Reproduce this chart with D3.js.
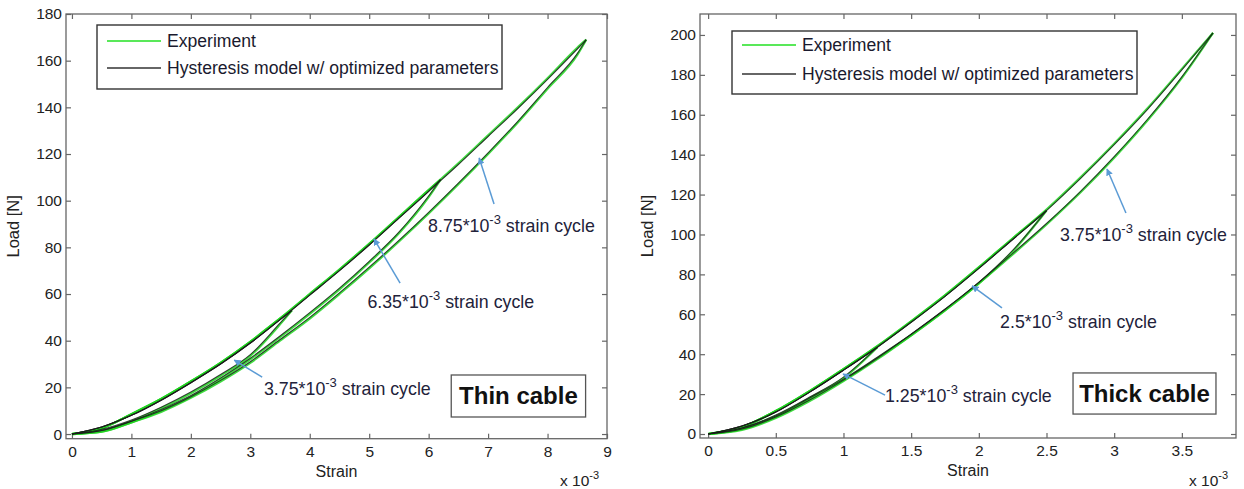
<!DOCTYPE html>
<html>
<head>
<meta charset="utf-8">
<script src="https://cdn.jsdelivr.net/npm/d3@7"></script>
<style>
  body { margin: 0; background: #fff; }
  text { font-family: Arial, "Liberation Sans", sans-serif; }
</style>
</head>
<body>
<svg width="1244" height="489"></svg>
<script>
// strain is in units of 1e-3, load in N

// ---- thin cable ----
const thinStrain = [0, 0.5, 1, 1.5, 2, 2.5, 3, 3.5, 4, 4.5, 5, 5.5, 6, 6.5, 7, 7.5, 8, 8.5];
const thinPeaks = [[3.7, 53], [6.2, 109], [8.65, 169]];
const thinModelUp = [0, 3, 8, 14.5, 22, 30, 39, 49, 59.5, 70, 81, 92.5, 104, 115.5, 127.5, 139.5, 152, 165];
const thinModelDown = [
  [0, 2, 6, 11.5, 18, 25.5, 34, 47.5],
  [0, 1.5, 5.5, 10.5, 16.5, 24, 32.5, 42, 52, 62.5, 74, 86.5, 102],
  [0, 1.5, 5.5, 10, 16, 23, 31, 40.5, 50, 60.5, 71.5, 83, 95, 107.5, 120.5, 134, 148.5, 163]
];
const thinExpUp = [0, 2.5, 8.5, 15, 22.5, 30.5, 39.5, 49.5, 60, 70.5, 81.5, 93, 104.5, 116, 128, 140, 152.5, 165.5];
const thinExpDown = [
  [0, 1.5, 5.5, 11, 17.5, 25, 33.5, 47],
  [0, 1, 5, 10, 16, 23.5, 32, 41.5, 51.5, 62, 73.5, 86, 101.5],
  [0, 1, 5, 9.5, 15.5, 22.5, 30.5, 40, 49.5, 60, 71, 82.5, 94.5, 107, 120, 133.5, 148, 162.5]
];
const thinXTicks = [0, 1, 2, 3, 4, 5, 6, 7, 8, 9];
const thinYTicks = [0, 20, 40, 60, 80, 100, 120, 140, 160, 180];
// [text strain, text load, label, arrow tail strain, tail load, head strain, head load]
const thinNotes = [
  [5.99, 86.6, '8.75', 7.10, 98.6, 6.85, 118.3],
  [4.97, 54.0, '6.35', 5.52, 64.7, 5.08, 83.6],
  [3.23, 16.7, '3.75', 3.20, 24.4, 2.73, 31.7]
];

// ---- thick cable ----
const thickStrain = [0, 0.25, 0.5, 0.75, 1, 1.25, 1.5, 1.75, 2, 2.25, 2.5, 2.75, 3, 3.25, 3.5];
const thickPeaks = [[1.25, 43.5], [2.5, 112], [3.73, 201]];
const thickModelUp = [0, 4, 11, 21, 32, 43.5, 56, 69, 83, 97.5, 112, 128, 145, 163, 182.5];
const thickModelDown = [
  [0, 3, 9.5, 18.5, 28.5],
  [0, 3, 9, 18, 27.5, 38.5, 50, 62.5, 76, 92],
  [0, 2.5, 8.5, 17, 27, 38, 50, 62.5, 76, 90.5, 105.5, 121.5, 139, 158, 179]
];
const thickExpUp = [0, 3.5, 11.5, 21.5, 32.5, 44, 56.5, 69.5, 83.5, 98, 112.5, 128.5, 145.5, 163.5, 183];
const thickExpDown = [
  [0, 2.5, 9, 18, 28],
  [0, 2.5, 8.5, 17.5, 27, 38, 49.5, 62, 75.5, 91.5],
  [0, 2, 8, 16.5, 26.5, 37.5, 49.5, 62, 75.5, 90, 105, 121, 138.5, 157.5, 178.5]
];
const thickXTicks = [0, 0.5, 1, 1.5, 2, 2.5, 3, 3.5];
const thickYTicks = [0, 20, 40, 60, 80, 100, 120, 140, 160, 180, 200];
const thickNotes = [
  [2.60, 96.7, '3.75', 3.087, 110.8, 2.947, 132.8],
  [2.157, 53.1, '2.5', 2.171, 63.2, 1.95, 74.2],
  [1.307, 16.0, '1.25', 1.307, 19.5, 0.997, 30.1]
];

const legendLabels = ['Experiment', 'Hysteresis model w/ optimized parameters'];

const svg = d3.select('svg');

svg.append('defs').append('marker')
  .attr('id', 'head')
  .attr('viewBox', '0 0 10 10')
  .attr('refX', 9).attr('refY', 5)
  .attr('markerWidth', 7).attr('markerHeight', 7)
  .attr('markerUnits', 'userSpaceOnUse')
  .attr('orient', 'auto')
  .append('path')
  .attr('d', 'M0,0 L10,5 L0,10 z')
  .attr('fill', '#5b9bd5');

function panel(o) {
  const x = d3.scaleLinear().domain(o.xDomain).range([o.left, o.right]);
  const y = d3.scaleLinear().domain(o.yDomain).range([o.bottom, o.top]);
  const g = svg.append('g');

  // ticks on all four sides, pointing in
  const styleAxis = sel => {
    sel.select('.domain').remove();
    sel.selectAll('line').attr('stroke', '#666').attr('stroke-width', 1.2);
    sel.selectAll('text').attr('fill', '#222').attr('font-size', 15.5)
      .attr('font-family', 'Arial, "Liberation Sans", sans-serif');
  };
  const fmt = d => String(d);
  g.append('g').attr('transform', `translate(0,${o.bottom})`)
    .call(d3.axisBottom(x).tickValues(o.xTicks).tickFormat(fmt).tickSize(-5).tickPadding(7))
    .call(styleAxis);
  g.append('g').attr('transform', `translate(0,${o.top})`)
    .call(d3.axisTop(x).tickValues(o.xTicks).tickSize(-5).tickFormat(''))
    .call(styleAxis);
  g.append('g').attr('transform', `translate(${o.left},0)`)
    .call(d3.axisLeft(y).tickValues(o.yTicks).tickFormat(fmt).tickSize(-5).tickPadding(4))
    .call(styleAxis);
  g.append('g').attr('transform', `translate(${o.right},0)`)
    .call(d3.axisRight(y).tickValues(o.yTicks).tickSize(-5).tickFormat(''))
    .call(styleAxis);

  g.append('rect')
    .attr('x', o.left).attr('y', o.top)
    .attr('width', o.right - o.left).attr('height', o.bottom - o.top)
    .attr('fill', 'none').attr('stroke', '#666').attr('stroke-width', 1.3);

  const line = d3.line()
    .x(d => x(d[0]))
    .y(d => y(d[1]))
    .curve(d3.curveMonotoneX);

  const branches = (up, down) => {
    let out = [];
    o.peaks.forEach((p, i) => {
      out.push(o.strain.map((s, j) => [s, up[j]]).filter(d => d[0] < p[0]).concat([p]));
      out.push(down[i].map((v, j) => [o.strain[j], v]).concat([p]));
    });
    return out;
  };

  g.append('g').selectAll('path')
    .data(branches(o.expUp, o.expDown))
    .join('path')
    .attr('fill', 'none')
    .attr('stroke', '#1ed31e')
    .attr('stroke-width', 2.2)
    .attr('stroke-opacity', 0.85)
    .attr('d', line);

  g.append('g').selectAll('path')
    .data(branches(o.modelUp, o.modelDown))
    .join('path')
    .attr('fill', 'none')
    .attr('stroke', '#1a1a1a')
    .attr('stroke-width', 1.1)
    .attr('stroke-opacity', 0.8)
    .attr('d', line);

  // annotations
  o.notes.forEach(n => {
    g.append('line')
      .attr('x1', x(n[3])).attr('y1', y(n[4]))
      .attr('x2', x(n[5])).attr('y2', y(n[6]))
      .attr('stroke', '#5b9bd5').attr('stroke-width', 1.5)
      .attr('marker-end', 'url(#head)');
    const t = g.append('text')
      .attr('x', x(n[0])).attr('y', y(n[1]))
      .attr('font-size', 17.8).attr('fill', '#22223a');
    t.append('tspan').text(n[2] + '*10');
    t.append('tspan').attr('dy', -8).attr('font-size', 13).text('-3');
    t.append('tspan').attr('dy', 8).text(' strain cycle');
  });

  // cable name box
  g.append('rect')
    .attr('x', x(o.nameBox[0])).attr('y', y(o.nameBox[1]))
    .attr('width', x(o.nameBox[2]) - x(o.nameBox[0]))
    .attr('height', y(o.nameBox[3]) - y(o.nameBox[1]))
    .attr('fill', '#fff').attr('stroke', '#555').attr('stroke-width', 1.3);
  g.append('text')
    .attr('x', (x(o.nameBox[0]) + x(o.nameBox[2])) / 2)
    .attr('y', (y(o.nameBox[1]) + y(o.nameBox[3])) / 2 + 8)
    .attr('text-anchor', 'middle')
    .attr('font-family', 'Lato, "Open Sans", sans-serif')
    .attr('font-weight', 'bold')
    .attr('font-size', 24)
    .attr('fill', '#111')
    .text(o.name);

  // legend
  const lg = g.append('g').attr('transform', `translate(${o.legend[0]},${o.legend[1]})`);
  lg.append('rect')
    .attr('width', 405).attr('height', o.legend[2])
    .attr('fill', '#fff').attr('stroke', '#333').attr('stroke-width', 1.4);
  legendLabels.forEach((lab, i) => {
    const ly = o.legend[3] + i * o.legend[4];
    lg.append('line')
      .attr('x1', 10).attr('x2', 64).attr('y1', ly).attr('y2', ly)
      .attr('stroke', i === 0 ? '#22e022' : '#333').attr('stroke-width', 1.4);
    lg.append('text')
      .attr('x', 70).attr('y', ly + 6)
      .attr('font-size', 17.6).attr('fill', '#1a1a2e')
      .text(lab);
  });

  // axis titles
  g.append('text')
    .attr('x', (o.left + o.right) / 2).attr('y', o.bottom + 38)
    .attr('text-anchor', 'middle').attr('font-size', 16).attr('fill', '#222')
    .text('Strain');
  g.append('text')
    .attr('transform', `translate(${o.left - 47},${(o.top + o.bottom) / 2}) rotate(-90)`)
    .attr('text-anchor', 'middle').attr('font-size', 16.5).attr('fill', '#222')
    .text('Load [N]');
  const ex = g.append('text')
    .attr('x', o.right - 47).attr('y', 486)
    .attr('font-size', 15.5).attr('fill', '#222');
  ex.append('tspan').text('x 10');
  ex.append('tspan').attr('dy', -7).attr('font-size', 11).text('-3');
}

panel({
  xDomain: [-0.1, 9], yDomain: [-2, 180],
  left: 66, right: 607, top: 14, bottom: 438.7,
  xTicks: thinXTicks, yTicks: thinYTicks,
  strain: thinStrain, peaks: thinPeaks,
  modelUp: thinModelUp, modelDown: thinModelDown,
  expUp: thinExpUp, expDown: thinExpDown,
  notes: thinNotes,
  nameBox: [6.38, 25.3, 8.64, 7.3], name: 'Thin cable',
  legend: [97, 25, 64, 16, 27]
});

panel({
  xDomain: [-0.06, 3.9], yDomain: [-2, 210.5],
  left: 700, right: 1236, top: 14, bottom: 438,
  xTicks: thickXTicks, yTicks: thickYTicks,
  strain: thickStrain, peaks: thickPeaks,
  modelUp: thickModelUp, modelDown: thickModelDown,
  expUp: thickExpUp, expDown: thickExpDown,
  notes: thickNotes,
  nameBox: [2.696, 30.6, 3.752, 10.0], name: 'Thick cable',
  legend: [732, 31, 63, 14, 29]
});
</script>
</body>
</html>
